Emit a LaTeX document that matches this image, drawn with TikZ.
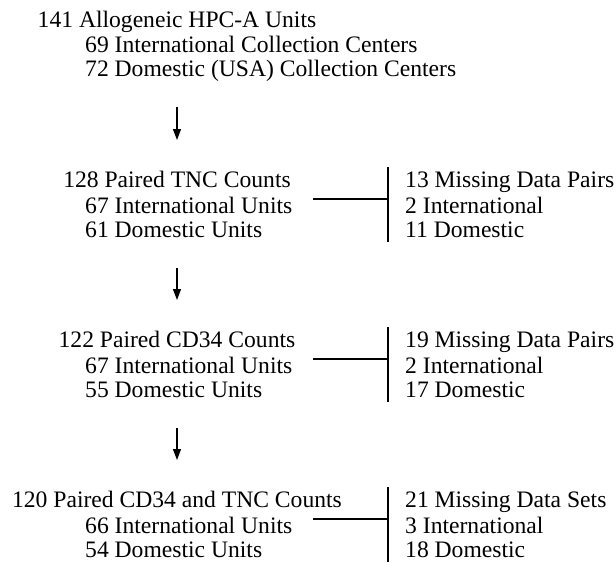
\documentclass[tikz,border=0pt]{standalone}
\usepackage{fontspec}
\setmainfont{Liberation Serif}
\usetikzlibrary{arrows.meta}
\begin{document}
\begin{tikzpicture}[x=1pt,y=1pt,
  txt/.style={inner sep=0pt,font=\fontsize{23.6}{25}\selectfont},
  flow/.style={-{Triangle[length=11pt,width=8pt]},line width=1.2pt},
  bar/.style={line width=1.2pt}]
\useasboundingbox (0,0) rectangle (616,-565);
% all units
\node[txt,anchor=base] (head1) at (177,-27) {141 Allogeneic HPC-A Units};
\node[txt,anchor=base west] (int1) at (85,-52) {69 International Collection Centers};
\node[txt,anchor=base west] (dom1) at (85,-76) {72 Domestic (USA) Collection Centers};
% TNC pairs
\node[txt,anchor=base] (head2) at (177,-187) {128 Paired TNC Counts};
\node[txt,anchor=base west] (int2) at (85,-213) {67 International Units};
\node[txt,anchor=base west] (dom2) at (85,-237) {61 Domestic Units};
\node[txt,anchor=base west] (mis2) at (405,-187) {13 Missing Data Pairs};
\node[txt,anchor=base west] (rint2) at (405,-213) {2 International};
\node[txt,anchor=base west] (rdom2) at (405,-237) {11 Domestic};
% CD34 pairs
\node[txt,anchor=base] (head3) at (177,-347) {122 Paired CD34 Counts};
\node[txt,anchor=base west] (int3) at (85,-373) {67 International Units};
\node[txt,anchor=base west] (dom3) at (85,-397) {55 Domestic Units};
\node[txt,anchor=base west] (mis3) at (405,-347) {19 Missing Data Pairs};
\node[txt,anchor=base west] (rint3) at (405,-373) {2 International};
\node[txt,anchor=base west] (rdom3) at (405,-397) {17 Domestic};
% CD34 and TNC
\node[txt,anchor=base] (head4) at (177,-507) {120 Paired CD34 and TNC Counts};
\node[txt,anchor=base west] (int4) at (85,-533) {66 International Units};
\node[txt,anchor=base west] (dom4) at (85,-557) {54 Domestic Units};
\node[txt,anchor=base west] (mis4) at (405,-507) {21 Missing Data Sets};
\node[txt,anchor=base west] (rint4) at (405,-533) {3 International};
\node[txt,anchor=base west] (rdom4) at (405,-557) {18 Domestic};
% downward arrows
\draw[flow,shorten <=31pt,shorten >=47pt] (head1.base |- dom1.base) -- (head2.base);
\draw[flow,shorten <=31pt,shorten >=47pt] (head2.base |- dom2.base) -- (head3.base);
\draw[flow,shorten <=31pt,shorten >=47pt] (head3.base |- dom3.base) -- (head4.base);
% missing data brackets
\draw[bar] ([xshift=-17pt,yshift=20pt]mis2.base west) -- ([xshift=-17pt,yshift=-5pt]rdom2.base west);
\draw[bar] ([xshift=20pt,yshift=14pt]int2.base east) -- ([xshift=-17pt,yshift=14pt]rint2.base west);
\draw[bar] ([xshift=-17pt,yshift=20pt]mis3.base west) -- ([xshift=-17pt,yshift=-5pt]rdom3.base west);
\draw[bar] ([xshift=20pt,yshift=14pt]int3.base east) -- ([xshift=-17pt,yshift=14pt]rint3.base west);
\draw[bar] ([xshift=-17pt,yshift=20pt]mis4.base west) -- ([xshift=-17pt,yshift=-5pt]rdom4.base west);
\draw[bar] ([xshift=20pt,yshift=14pt]int4.base east) -- ([xshift=-17pt,yshift=14pt]rint4.base west);
\end{tikzpicture}
\end{document}
